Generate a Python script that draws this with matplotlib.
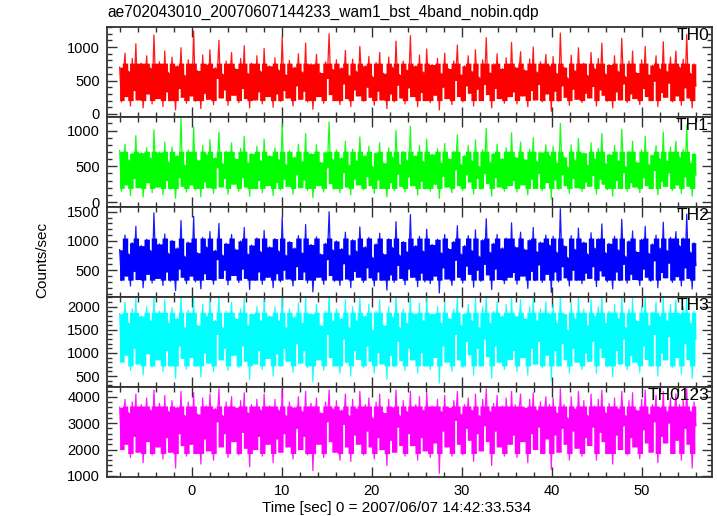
import numpy as np
import matplotlib
matplotlib.use("Agg")
import matplotlib.pyplot as plt
from matplotlib.ticker import MultipleLocator

plt.rcParams['font.family'] = ['Liberation Sans', 'DejaVu Sans']

title = "ae702043010_20070607144233_wam1_bst_4band_nobin.qdp"
xlabel = "Time [sec] 0 = 2007/06/07 14:42:33.534"
ylabel = "Counts/sec"
t_start, t_end = -8.0, 56.0

band_names = ["TH0", "TH1", "TH2", "TH3", "TH0123"]
band_colors = ["#ff0000", "#00ff00", "#0000ff", "#00ffff", "#ff00ff"]
ylims = [(-45, 1300), (-70, 1190), (42, 1580), (263, 2209), (962, 4367)]
major_steps = [500, 500, 500, 500, 1000]
minor_steps = [100, 100, 100, 100, 200]
# dense (solid-looking) part of each band
core_bands = [(200, 760), (190, 710), (330, 1050), (720, 1880), (1850, 3650)]

th0 = [
 700, 180, 520, 910, 260, 640, 120, 830, 350, 1050, 210, 560, 760, 90, 480, 870, 300, 690, 150, 1180,
 420, 230, 780, 560, 110, 940, 330, 620, 200, 850, 470, 60, 720, 380, 990, 250, 580, 160, 810, 440,
 270, 1240, 190, 650, 510, 80, 880, 310, 740, 220, 960, 400, 140, 690, 530, 1100, 240, 600, 360, 790,
 130, 570, 920, 280, 680, 450, 170, 830, 380, 1020, 230, 610, 90, 760, 490, 210, 870, 330, 640, 150,
 980, 410, 260, 720, 540, 100, 840, 300, 660, 190, 1150, 350, 590, 240, 800, 470, 120, 700, 420, 900,
 220, 630, 340, 1060, 180, 560, 750, 70, 480, 890, 260, 620, 410, 160, 780, 530, 1200, 290, 670, 200,
 810, 380, 140, 690, 450, 950, 230, 580, 110, 820, 360, 640, 270, 1010, 490, 190, 720, 400, 860, 250,
 560, 130, 770, 340, 920, 210, 610, 480, 80, 850, 300, 700, 180, 1090, 430, 590, 240, 790, 150, 660,
 390, 1170, 260, 540, 720, 110, 880, 320, 630, 200, 970, 450, 170, 740, 520, 280, 830, 60, 610, 400,
 910, 230, 680, 350, 140, 790, 500, 1030, 260, 590, 180, 720, 420, 870, 310, 640, 120, 960, 370, 550,
 200, 810, 440, 1140, 290, 620, 90, 750, 380, 900, 230, 570, 680, 160, 840, 410, 260, 1070, 330, 700,
 150, 590, 930, 270, 660, 480, 110, 820, 350, 1000, 210, 630, 440, 780, 180, 560, 890, 300, 720, 40,
 860, 340, 610, 190, 1210, 420, 700, 250, 540, 130, 880, 370, 650, 220, 990, 460, 170, 760, 310, 580,
 240, 920, 410, 680, 120, 830, 360, 1060, 280, 600, 190, 740, 470, 90, 870, 330, 640, 210, 1130, 450,
 560, 170, 790, 300, 940, 230, 620, 430, 140, 810, 380, 1010, 260, 590, 200, 730, 490, 870, 110, 680,
 320, 1080, 250, 640, 460, 850, 180, 570, 940, 270, 700, 130, 820, 390, 1190, 240, 610, 90, 750, 420,
]
th1 = [
 720, 150, 460, 810, 240, 590, 90, 680, 330, 930, 200, 510, 690, 70, 430, 760, 270, 620, 130, 1010,
 380, 210, 700, 500, 100, 840, 300, 560, 180, 770, 420, 50, 650, 340, 1180, 220, 520, 140, 730, 400,
 240, 1050, 170, 590, 460, 70, 790, 280, 670, 200, 870, 360, 120, 620, 480, 980, 210, 540, 330, 710,
 110, 510, 830, 250, 610, 410, 150, 750, 340, 920, 210, 550, 80, 680, 440, 190, 780, 300, 580, 130,
 880, 370, 230, 650, 490, 90, 760, 270, 600, 170, 1090, 320, 530, 220, 720, 420, 110, 630, 380, 810,
 200, 570, 310, 960, 160, 500, 680, 60, 430, 800, 230, 560, 370, 140, 700, 480, 1120, 260, 600, 180,
 730, 340, 130, 620, 410, 850, 210, 520, 100, 740, 320, 580, 240, 910, 440, 170, 650, 360, 780, 230,
 500, 120, 690, 310, 830, 190, 550, 430, 70, 760, 270, 630, 160, 1000, 390, 530, 220, 710, 140, 590,
 350, 1060, 230, 490, 650, 100, 790, 290, 570, 180, 880, 410, 150, 670, 470, 250, 750, 50, 550, 360,
 820, 210, 610, 320, 130, 710, 450, 940, 230, 530, 160, 650, 380, 790, 280, 580, 110, 870, 330, 500,
 180, 730, 400, 1030, 260, 560, 80, 680, 340, 810, 210, 510, 610, 150, 760, 370, 230, 970, 300, 630,
 140, 530, 840, 240, 600, 430, 100, 740, 320, 900, 190, 570, 400, 700, 160, 500, 800, 270, 650, 40,
 780, 310, 550, 170, 1100, 380, 630, 230, 490, 120, 800, 330, 590, 200, 890, 420, 150, 690, 280, 520,
 220, 830, 370, 610, 110, 750, 320, 960, 250, 540, 170, 670, 420, 80, 790, 300, 580, 190, 1020, 410,
 500, 150, 710, 270, 850, 210, 560, 390, 130, 730, 340, 920, 230, 530, 180, 660, 440, 790, 100, 610,
 290, 980, 220, 580, 410, 770, 160, 510, 850, 240, 630, 120, 740, 350, 1080, 220, 550, 80, 680, 380,
]
th2 = [
 850, 320, 660, 1100, 400, 780, 230, 970, 480, 1250, 340, 700, 920, 200, 610, 1030, 430, 840, 280, 1480,
 560, 360, 950, 710, 240, 1120, 470, 790, 310, 1010, 610, 150, 880, 520, 1350, 380, 740, 270, 980, 580,
 400, 1420, 300, 800, 650, 180, 1060, 440, 900, 340, 1160, 560, 260, 840, 680, 1300, 360, 760, 500, 960,
 250, 730, 1110, 410, 860, 600, 290, 1000, 520, 1230, 360, 780, 170, 930, 640, 330, 1050, 470, 820, 260,
 1180, 560, 380, 900, 700, 200, 1040, 440, 830, 300, 1400, 500, 760, 350, 990, 620, 230, 880, 560, 1090,
 340, 800, 470, 1280, 280, 720, 940, 130, 630, 1070, 380, 780, 550, 260, 960, 680, 1500, 410, 850, 310,
 1000, 520, 240, 870, 610, 1150, 350, 760, 200, 1020, 480, 830, 380, 1240, 640, 290, 900, 540, 1060, 370,
 720, 230, 950, 470, 1130, 330, 780, 620, 160, 1040, 420, 890, 290, 1330, 580, 760, 360, 990, 250, 820,
 520, 1450, 380, 720, 920, 220, 1080, 450, 830, 300, 1200, 600, 270, 940, 690, 400, 1030, 110, 800, 540,
 1110, 350, 870, 490, 240, 990, 670, 1260, 380, 780, 280, 920, 570, 1090, 430, 840, 210, 1190, 500, 740,
 310, 1020, 600, 1380, 420, 810, 170, 960, 520, 1110, 340, 750, 880, 270, 1050, 560, 380, 1310, 460, 900,
 260, 780, 1150, 400, 860, 640, 190, 1020, 480, 1230, 320, 820, 590, 980, 290, 740, 1100, 430, 930, 120,
 1080, 470, 810, 300, 1550, 560, 920, 370, 720, 230, 1090, 500, 860, 330, 1220, 620, 270, 980, 450, 780,
 360, 1140, 560, 880, 220, 1040, 490, 1290, 400, 800, 300, 960, 630, 180, 1080, 470, 850, 320, 1370, 600,
 740, 280, 1000, 430, 1170, 340, 820, 590, 240, 1030, 520, 1250, 380, 790, 310, 950, 660, 1100, 200, 880,
 460, 1320, 370, 840, 620, 1060, 290, 760, 1160, 390, 920, 230, 1050, 540, 1460, 360, 810, 180, 970, 580,
]
th3 = [
 1850, 800, 1400, 2100, 950, 1650, 620, 1950, 1100, 2200, 760, 1500, 1800, 520, 1300, 2000, 980, 1700, 690, 2250,
 1200, 850, 1900, 1500, 600, 2150, 1050, 1650, 720, 1980, 1300, 450, 1750, 1150, 2250, 880, 1550, 650, 1920, 1250,
 900, 2200, 700, 1600, 1350, 480, 2050, 1000, 1800, 780, 2150, 1200, 600, 1700, 1400, 2230, 850, 1550, 1100, 1900,
 620, 1500, 2100, 950, 1750, 1300, 680, 1950, 1150, 2180, 820, 1600, 420, 1850, 1350, 760, 2000, 1050, 1700, 640,
 2150, 1200, 880, 1800, 1450, 500, 2000, 980, 1700, 720, 2250, 1100, 1550, 820, 1950, 1300, 580, 1780, 1200, 2080,
 780, 1650, 1050, 2200, 680, 1500, 1850, 380, 1350, 2050, 850, 1600, 1200, 620, 1900, 1400, 2250, 900, 1700, 720,
 1950, 1100, 560, 1750, 1300, 2150, 800, 1550, 500, 2000, 1050, 1700, 860, 2200, 1350, 680, 1800, 1150, 2050, 820,
 1500, 560, 1900, 1000, 2150, 760, 1600, 1300, 430, 2000, 950, 1780, 700, 2250, 1250, 1550, 830, 1950, 620, 1650,
 1100, 2230, 850, 1500, 1850, 560, 2080, 1000, 1700, 720, 2200, 1300, 640, 1850, 1450, 900, 2000, 350, 1650, 1150,
 2100, 800, 1750, 1100, 600, 1950, 1400, 2200, 850, 1600, 680, 1850, 1250, 2050, 960, 1700, 520, 2180, 1100, 1550,
 720, 2000, 1300, 2250, 920, 1650, 450, 1900, 1150, 2100, 800, 1550, 1800, 640, 2050, 1250, 860, 2220, 1050, 1800,
 600, 1600, 2150, 900, 1750, 1350, 520, 2000, 1100, 2200, 760, 1700, 1250, 1950, 680, 1500, 2100, 950, 1850, 400,
 2050, 1050, 1650, 720, 2250, 1200, 1850, 860, 1500, 560, 2080, 1100, 1750, 800, 2200, 1300, 640, 1950, 1000, 1600,
 820, 2150, 1250, 1800, 560, 2000, 1100, 2250, 900, 1650, 700, 1900, 1350, 480, 2050, 1050, 1750, 760, 2200, 1300,
 1550, 640, 1950, 950, 2180, 800, 1700, 1300, 580, 2000, 1150, 2250, 860, 1600, 720, 1880, 1400, 2100, 500, 1800,
 1000, 2200, 850, 1700, 1350, 2050, 680, 1550, 2150, 900, 1850, 540, 2000, 1200, 2250, 860, 1650, 450, 1900, 1300,
]
th0123 = [
 3600, 2000, 3100, 3900, 2200, 3400, 1700, 3800, 2500, 4100, 1900, 3200, 3700, 1500, 2900, 3950, 2300, 3500, 1800, 4250,
 2800, 2100, 3750, 3200, 1650, 4050, 2450, 3450, 1900, 3850, 2900, 1300, 3600, 2600, 4200, 2150, 3300, 1750, 3800, 2750,
 2200, 4150, 1850, 3350, 3000, 1450, 3950, 2400, 3650, 1950, 4100, 2700, 1600, 3550, 3050, 4300, 2100, 3300, 2600, 3800,
 1700, 3200, 4000, 2300, 3600, 2900, 1800, 3850, 2650, 4150, 2050, 3400, 1350, 3700, 3000, 2000, 3900, 2500, 3500, 1750,
 4100, 2750, 2200, 3650, 3100, 1500, 3900, 2400, 3500, 1900, 4300, 2600, 3300, 2100, 3800, 2900, 1650, 3600, 2800, 4000,
 2000, 3450, 2500, 4200, 1800, 3200, 3750, 1200, 2950, 3950, 2200, 3400, 2750, 1700, 3800, 3050, 4250, 2300, 3550, 1900,
 3850, 2650, 1600, 3500, 2950, 4100, 2100, 3300, 1550, 3900, 2550, 3550, 2200, 4200, 3000, 1800, 3700, 2700, 3950, 2100,
 3200, 1650, 3800, 2450, 4100, 2000, 3400, 2950, 1400, 3900, 2350, 3600, 1900, 4250, 2850, 3300, 2150, 3850, 1750, 3450,
 2600, 4200, 2150, 3250, 3700, 1600, 4000, 2450, 3500, 1950, 4150, 2900, 1700, 3650, 3100, 2250, 3900, 1100, 3450, 2700,
 4050, 2100, 3600, 2650, 1750, 3850, 3100, 4200, 2200, 3350, 1800, 3700, 2800, 3950, 2350, 3500, 1550, 4100, 2600, 3300,
 1950, 3900, 2900, 4300, 2300, 3450, 1400, 3750, 2700, 4050, 2100, 3250, 3650, 1750, 3950, 2850, 2200, 4200, 2550, 3700,
 1700, 3350, 4100, 2300, 3600, 3000, 1500, 3900, 2600, 4150, 2000, 3500, 2850, 3800, 1850, 3200, 4000, 2400, 3700, 1250,
 3950, 2550, 3400, 1900, 4300, 2800, 3700, 2200, 3200, 1600, 4000, 2700, 3550, 2050, 4200, 2950, 1750, 3850, 2450, 3300,
 2150, 4100, 2850, 3650, 1600, 3900, 2650, 4250, 2300, 3400, 1850, 3750, 3000, 1450, 3950, 2550, 3550, 2000, 4200, 2900,
 3300, 1800, 3850, 2450, 4150, 2100, 3500, 2950, 1650, 3900, 2750, 4250, 2250, 3350, 1900, 3700, 3050, 4050, 1500, 3600,
 2500, 4200, 2250, 3450, 3000, 3950, 1850, 3250, 4100, 2350, 3700, 1600, 3900, 2800, 4300, 2200, 3450, 1300, 3800, 2900,
]
series = [th0, th1, th2, th3, th0123]

W, H = 717, 516
fig = plt.figure(figsize=(W / 100, H / 100), dpi=100)

left, right = 107 / W, 712 / W
top_px, panel_px = 27, 90

for i, (name, color, yl, vals, core, mj, mn) in enumerate(
        zip(band_names, band_colors, ylims, series, core_bands, major_steps, minor_steps)):
    y0 = 1 - (top_px + (i + 1) * panel_px) / H
    ax = fig.add_axes([left, y0, right - left, panel_px / H])
    v = np.asarray(vals, dtype=float)
    t = np.linspace(t_start, t_end, len(v))
    # vertical extent covered around each sample (neighbouring samples included)
    vp = np.concatenate([v[:1], v, v[-1:]])
    lo = np.minimum(np.minimum(vp[:-2], vp[1:-1]), vp[2:])
    hi = np.maximum(np.maximum(vp[:-2], vp[1:-1]), vp[2:])
    core_lo = np.maximum(lo, core[0])
    core_hi = np.maximum(np.minimum(hi, core[1]), core_lo)
    ax.fill_between(t, core_lo, core_hi, step='mid', color=color, lw=0)
    ax.plot(t, v, color=color, lw=0.9, alpha=0.9)
    ax.set_xlim(-9.4, 57.8)
    ax.set_ylim(*yl)
    ax.xaxis.set_major_locator(MultipleLocator(10))
    ax.xaxis.set_minor_locator(MultipleLocator(2))
    ax.yaxis.set_major_locator(MultipleLocator(mj))
    ax.yaxis.set_minor_locator(MultipleLocator(mn))
    ax.tick_params(which='both', direction='in', top=True, right=True,
                   labelsize=10.5, color='#333333', width=1.0, pad=5)
    ax.tick_params(which='major', length=7)
    ax.tick_params(which='minor', length=3.5)
    for s in ax.spines.values():
        s.set_linewidth(1.3)
        s.set_color('#333333')
        s.set_zorder(3)
    if i < len(band_names) - 1:
        ax.tick_params(labelbottom=False)
    ax.text(0.995, 0.985, name, transform=ax.transAxes, ha='right', va='top',
            fontsize=12.5, color='black', zorder=4)

fig.text(left, 1 - 12 / H, title, ha='left', va='center', fontsize=11.2)
fig.text(397 / W, 1 - 508 / H, xlabel, ha='center', va='center', fontsize=11)
fig.text(42 / W, 1 - 260 / H, ylabel, ha='center', va='center', rotation=90, fontsize=11)

fig.savefig("out.png", dpi=100)
